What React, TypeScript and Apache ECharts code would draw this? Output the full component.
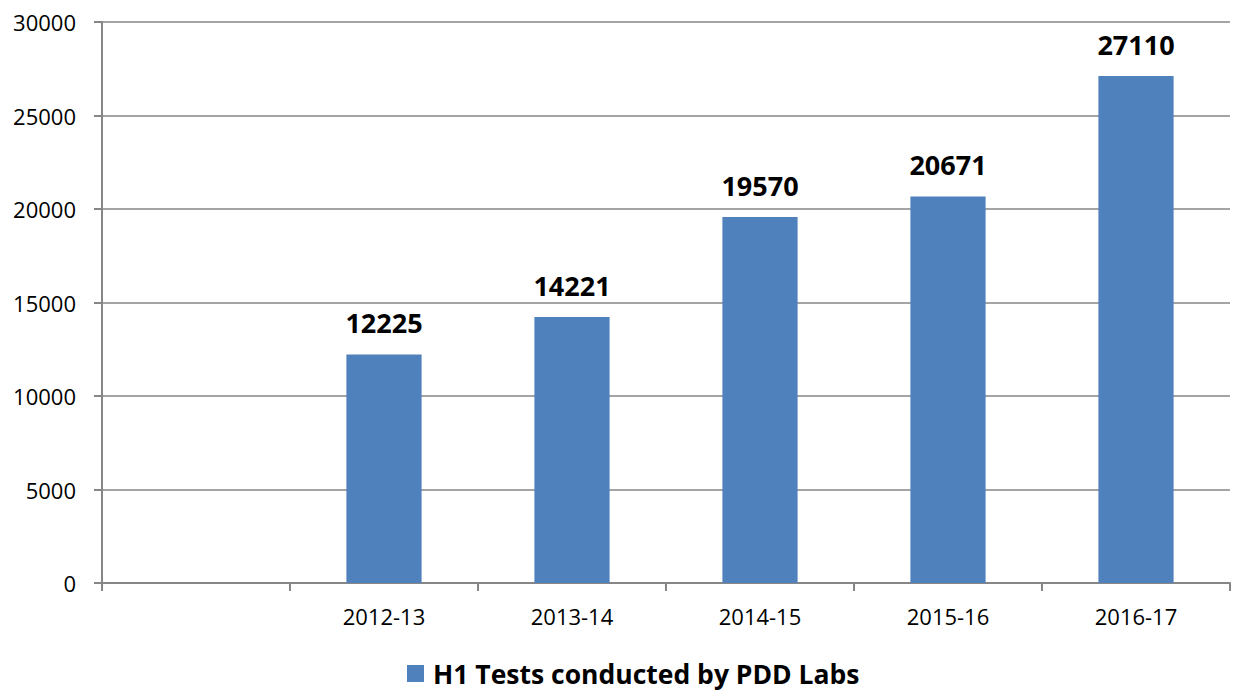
import React, { useEffect, useRef } from "react";
import * as echarts from "echarts";

const categories = ["", "2012-13", "2013-14", "2014-15", "2015-16", "2016-17"];
const testsConducted = [null, 12225, 14221, 19570, 20671, 27110];
const seriesName = "H1 Tests conducted by PDD Labs";

export default function App() {
  const ref = useRef<HTMLDivElement>(null);
  useEffect(() => {
    const chart = echarts.init(ref.current!, null, { renderer: "svg" });
    const font = "'Open Sans', 'Noto Sans', sans-serif";
    chart.setOption({
      animation: false,
      textStyle: { fontFamily: font },
      grid: { left: 102, right: 6, top: 22, bottom: 110, containLabel: false },
      legend: {
        bottom: 1,
        left: 402,
        itemWidth: 17,
        itemHeight: 17,
        itemGap: 10,
        icon: "rect",
        textStyle: {
          fontFamily: font,
          fontWeight: "bold",
          fontSize: 26.5,
          color: "#000",
          padding: [0, 0, 0, 4],
        },
        data: [seriesName],
      },
      xAxis: {
        type: "category",
        data: categories,
        axisLine: { lineStyle: { color: "#868686", width: 2 } },
        axisTick: { show: true, length: 8, alignWithLabel: false, lineStyle: { color: "#868686", width: 2 } },
        axisLabel: { color: "#000", fontSize: 22, margin: 22, fontFamily: font },
      },
      yAxis: {
        type: "value",
        min: 0,
        max: 30000,
        interval: 5000,
        axisLine: { show: true, lineStyle: { color: "#868686", width: 2 } },
        axisTick: { show: true, length: 8, lineStyle: { color: "#868686", width: 2 } },
        splitLine: { show: true, lineStyle: { color: "#868686", width: 1.5 } },
        axisLabel: {
          color: "#000",
          fontSize: 22,
          margin: 26,
          fontFamily: font,
          formatter: (v: number) => String(v),
        },
      },
      series: [
        {
          name: seriesName,
          type: "bar",
          data: testsConducted,
          barWidth: "40%",
          itemStyle: { color: "#4f81bd" },
          label: {
            show: true,
            position: "top",
            distance: 18,
            color: "#000",
            fontWeight: "bold",
            fontSize: 27,
            fontFamily: font,
          },
        },
      ],
    });
    return () => chart.dispose();
  }, []);
  return <div ref={ref} style={{ width: 1236, height: 693, position: "absolute", left: 0, top: 0 }} />;
}
